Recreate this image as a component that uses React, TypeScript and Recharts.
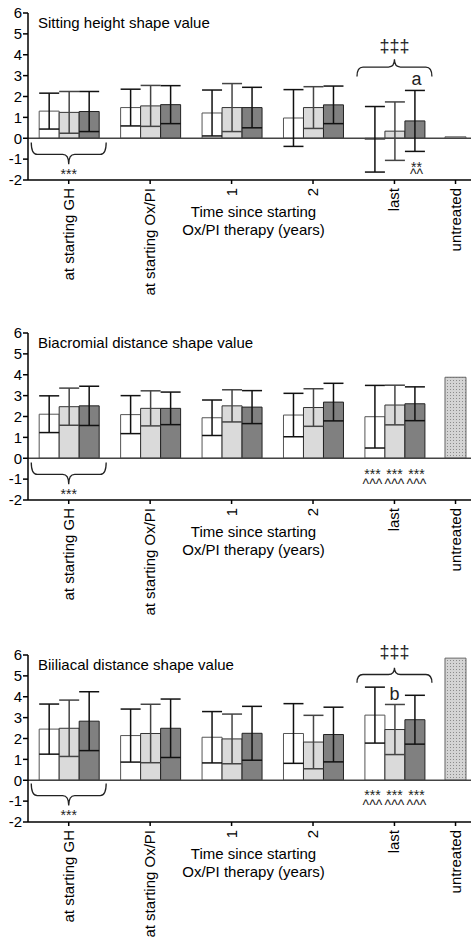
import { BarChart, Bar, XAxis, YAxis, ErrorBar, ReferenceLine, ReferenceArea, ReferenceDot } from "recharts";

const FONT = "'Liberation Sans', Arial, Helvetica, sans-serif";

const timePoints = ["at starting GH", "at starting Ox/PI", "1", "2", "last"];
const untreatedLabel = "untreated";
const yTicks = [-2, -1, 0, 1, 2, 3, 4, 5, 6];

// Sitting height shape value (mean, SD)
const sitWhite = [1.3, 1.47, 1.21, 0.97, -0.05];
const sitWhiteSd = [0.86, 0.88, 1.1, 1.36, 1.57];
const sitLight = [1.24, 1.55, 1.47, 1.47, 0.34];
const sitLightSd = [1.0, 0.98, 1.15, 1.0, 1.4];
const sitDark = [1.28, 1.61, 1.47, 1.6, 0.83];
const sitDarkSd = [0.96, 0.91, 0.97, 0.9, 1.46];
const sitUntreated = 0.07;

// Biacromial distance shape value
const biaWhite = [2.11, 2.09, 1.94, 2.07, 1.99];
const biaWhiteSd = [0.88, 0.91, 0.85, 1.04, 1.5];
const biaLight = [2.47, 2.39, 2.51, 2.43, 2.55];
const biaLightSd = [0.89, 0.84, 0.77, 0.9, 0.95];
const biaDark = [2.51, 2.39, 2.45, 2.69, 2.61];
const biaDarkSd = [0.94, 0.78, 0.79, 0.9, 0.81];
const biaUntreated = 3.88;

// Biiliacal distance shape value
const biiWhite = [2.45, 2.14, 2.06, 2.24, 3.12];
const biiWhiteSd = [1.2, 1.27, 1.23, 1.43, 1.34];
const biiLight = [2.49, 2.24, 1.98, 1.83, 2.43];
const biiLightSd = [1.35, 1.4, 1.19, 1.28, 1.2];
const biiDark = [2.83, 2.49, 2.25, 2.19, 2.9];
const biiDarkSd = [1.41, 1.4, 1.29, 1.31, 1.17];
const biiUntreated = 5.85;

// significance marks: time point, bar slot (-1 white, 0 light, 1 dark), y value of first line, text lines
const sitMarks = [
  { at: 0, slot: 0, y: -1.95, lines: ["***"] },
  { at: 4, slot: 0, y: 4.14, lines: ["‡‡‡"], size: 18 },
  { at: 4, slot: 1, y: 2.53, lines: ["a"], size: 18 },
  { at: 4, slot: 1, y: -1.61, lines: ["**", "^^"], gap: 7 },
];
const sitBraces = [
  { at: 0, from: -0.2, to: -1.24 },
  { at: 4, from: 2.96, to: 3.78 },
];

const biaMarks = [
  { at: 0, slot: 0, y: -1.97, lines: ["***"] },
  { at: 4, slot: -1, y: -0.98, lines: ["***", "^^^"], gap: 10 },
  { at: 4, slot: 0, y: -0.98, lines: ["***", "^^^"], gap: 10 },
  { at: 4, slot: 1, y: -0.98, lines: ["***", "^^^"], gap: 10 },
];
const biaBraces = [{ at: 0, from: -0.2, to: -1.24 }];

const biiMarks = [
  { at: 0, slot: 0, y: -1.91, lines: ["***"] },
  { at: 4, slot: 0, y: 5.84, lines: ["‡‡‡"], size: 18 },
  { at: 4, slot: 0, y: 3.86, lines: ["b"], size: 18 },
  { at: 4, slot: -1, y: -0.94, lines: ["***", "^^^"], gap: 10 },
  { at: 4, slot: 0, y: -0.94, lines: ["***", "^^^"], gap: 10 },
  { at: 4, slot: 1, y: -0.94, lines: ["***", "^^^"], gap: 10 },
];
const biiBraces = [
  { at: 0, from: -0.16, to: -1.21 },
  { at: 4, from: 4.67, to: 5.39 },
];

const UNTREATED_POS = 4.75;
const X_DOMAIN = [-0.5, 4.94];

function TimeTick(props: any) {
  const { x, y, payload } = props;
  const label = payload.value === UNTREATED_POS ? untreatedLabel : timePoints[payload.value];
  const ty = y + 2;
  return (
    <text x={x} y={ty} dy={5} transform={`rotate(-90, ${x}, ${ty})`} textAnchor="end"
      fontSize={15} fontFamily={FONT} fill="#000">
      {label}
    </text>
  );
}

function Brace({ x, y, width, height, up }: any) {
  const mid = x + width / 2;
  const yEnd = up ? y + height : y;
  const yTip = up ? y : y + height;
  const yFlat = yEnd + (yTip - yEnd) * 0.55;
  const c = 6;
  const d = `M${x},${yEnd} Q${x},${yFlat} ${x + c},${yFlat} L${mid - c},${yFlat} Q${mid},${yFlat} ${mid},${yTip} Q${mid},${yFlat} ${mid + c},${yFlat} L${x + width - c},${yFlat} Q${x + width},${yFlat} ${x + width},${yEnd}`;
  return <path d={d} fill="none" stroke="#222" strokeWidth={1.3} />;
}

function Panel({ id, title, white, whiteSd, light, lightSd, dark, darkSd, untreated, marks, braces, height, axisHeight }: any) {
  const data: any[] = timePoints.map((_, i) => ({
    pos: i,
    white: white[i], whiteErr: whiteSd[i],
    light: light[i], lightErr: lightSd[i],
    dark: dark[i], darkErr: darkSd[i],
  }));
  data.push({ pos: UNTREATED_POS, untreated });

  return (
    <BarChart width={471} height={height} data={data} margin={{ top: 13, right: 0, bottom: 0, left: 0 }} barGap={0}>
      <defs>
        <pattern id={`dots-${id}`} width="3" height="3" patternUnits="userSpaceOnUse">
          <rect width="3" height="3" fill="#d4d4d4" />
          <rect width="1" height="1" fill="#8c8c8c" />
        </pattern>
      </defs>
      <XAxis
        type="number"
        dataKey="pos"
        domain={X_DOMAIN}
        ticks={[0, 1, 2, 3, 4, UNTREATED_POS]}
        interval={0}
        tick={<TimeTick />}
        tickSize={4}
        height={axisHeight}
        stroke="#000"
        strokeWidth={1.5}
        allowDataOverflow
        label={{
          content: (p: any) => {
            const { x, y, width } = p.viewBox;
            const cx = x + width / 2 + 4;
            return (
              <text textAnchor="middle" fontSize={15} fontFamily={FONT} fill="#000">
                <tspan x={cx} y={y + 37}>Time since starting</tspan>
                <tspan x={cx} y={y + 55}>Ox/PI therapy (years)</tspan>
              </text>
            );
          },
        }}
      />
      <XAxis xAxisId="u" type="number" dataKey="pos" domain={X_DOMAIN} hide allowDataOverflow />
      <YAxis
        type="number"
        domain={[-2, 6]}
        ticks={yTicks}
        interval={0}
        width={28}
        tickSize={5}
        tickMargin={1}
        stroke="#000"
        strokeWidth={1.5}
        tick={{ fill: "#000", fontSize: 15, fontFamily: FONT }}
        allowDataOverflow
        label={{
          content: (p: any) => (
            <text x={p.viewBox.x + p.viewBox.width + 10} y={p.viewBox.y + 15} fontSize={15} fontFamily={FONT} fill="#000">
              {title}
            </text>
          ),
        }}
      />
      <ReferenceLine y={0} stroke="#444" strokeWidth={1.5} />
      <Bar dataKey="white" fill="#ffffff" stroke="#555" barSize={20} isAnimationActive={false}>
        <ErrorBar dataKey="whiteErr" width={10} stroke="#111" strokeWidth={1.5} />
      </Bar>
      <Bar dataKey="light" fill="#dadada" stroke="#333" barSize={20} isAnimationActive={false}>
        <ErrorBar dataKey="lightErr" width={10} stroke="#444" strokeWidth={1.5} />
      </Bar>
      <Bar dataKey="dark" fill="#808080" stroke="#222" barSize={20} isAnimationActive={false}>
        <ErrorBar dataKey="darkErr" width={10} stroke="#111" strokeWidth={1.5} />
      </Bar>
      <Bar xAxisId="u" dataKey="untreated" fill={`url(#dots-${id})`} stroke="#666" barSize={21} isAnimationActive={false} />
      {braces.map((b: any, i: number) => (
        <ReferenceArea
          key={`b${i}`}
          x1={b.at - 0.46}
          x2={b.at + 0.46}
          y1={b.from}
          y2={b.to}
          shape={(p: any) => <Brace {...p} up={b.to > b.from} />}
        />
      ))}
      {marks.map((m: any, i: number) => (
        <ReferenceDot
          key={`m${i}`}
          x={m.at}
          y={m.y}
          r={0}
          shape={(p: any) => {
            const cx = p.cx + m.slot * 22;
            return (
              <text textAnchor="middle" fontSize={m.size || 14} fontFamily={FONT} fill="#222">
                {m.lines.map((t: string, k: number) => (
                  <tspan key={k} x={cx} y={p.cy + k * (m.gap || 0)}>{t}</tspan>
                ))}
              </text>
            );
          }}
        />
      ))}
    </BarChart>
  );
}

export default function App() {
  return (
    <div style={{ width: 471, background: "#fff" }}>
      <style>{"body{margin:0;}"}</style>
      <Panel id="sit" title="Sitting height shape value" white={sitWhite} whiteSd={sitWhiteSd} light={sitLight} lightSd={sitLightSd}
        dark={sitDark} darkSd={sitDarkSd} untreated={sitUntreated} marks={sitMarks} braces={sitBraces} height={320} axisHeight={140} />
      <Panel id="bia" title="Biacromial distance shape value" white={biaWhite} whiteSd={biaWhiteSd} light={biaLight} lightSd={biaLightSd}
        dark={biaDark} darkSd={biaDarkSd} untreated={biaUntreated} marks={biaMarks} braces={biaBraces} height={322} axisHeight={142} />
      <Panel id="bii" title="Biiliacal distance shape value" white={biiWhite} whiteSd={biiWhiteSd} light={biiLight} lightSd={biiLightSd}
        dark={biiDark} darkSd={biiDarkSd} untreated={biiUntreated} marks={biiMarks} braces={biiBraces} height={300} axisHeight={120} />
    </div>
  );
}
